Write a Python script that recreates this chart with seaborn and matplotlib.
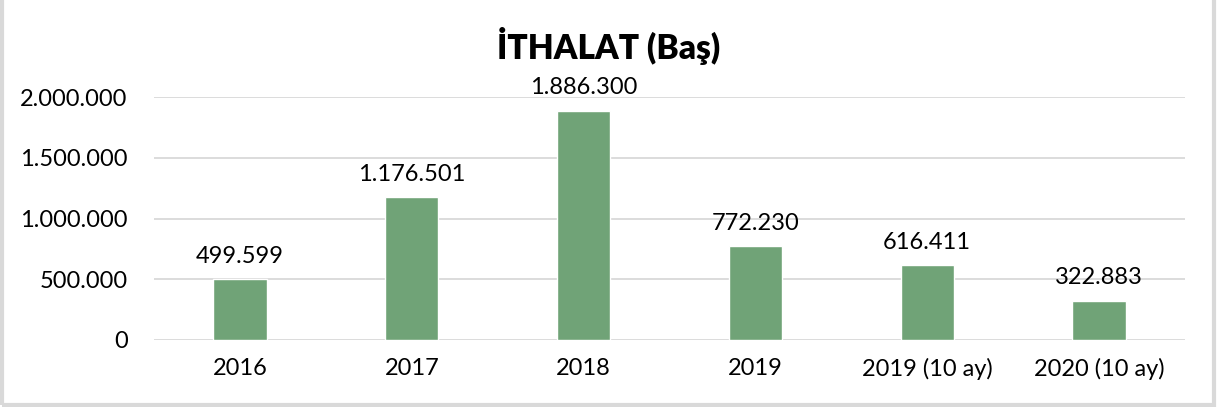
import matplotlib
matplotlib.use("Agg")
import matplotlib.pyplot as plt
from matplotlib.patches import Rectangle
import seaborn as sns
import pandas as pd

categories = ["2016", "2017", "2018", "2019", "2019 (10 ay)", "2020 (10 ay)"]
values = [499599, 1176501, 1886300, 772230, 616411, 322883]
yticks = [0, 500000, 1000000, 1500000, 2000000]

sns.set_theme(style="white")
plt.rcParams["font.family"] = ["Lato", "DejaVu Sans"]


def tr_fmt(v):
    return f"{int(round(v)):,}".replace(",", ".")


df = pd.DataFrame({"Yıl": categories, "Baş": values})

fig = plt.figure(figsize=(12.18, 4.07), dpi=100)
ax = fig.add_axes([154 / 1218, 1 - 340 / 407, (1185 - 154) / 1218, (340 - 97) / 407])

sns.barplot(data=df, x="Yıl", y="Baş", color="#70A377", width=0.31,
            saturation=1, ax=ax, zorder=3)

ax.set_ylim(0, 2000000)
ax.set_xlim(-0.5, len(categories) - 0.5)
ax.set_yticks(yticks)
ax.set_yticklabels([tr_fmt(t) for t in yticks], fontsize=17, color="#000000")
ax.tick_params(axis="x", labelsize=17, colors="#000000", length=0, pad=13)
ax.tick_params(axis="y", length=0, pad=19)
ax.set_xlabel("")
ax.set_ylabel("")
ax.yaxis.grid(True, color="#D9D9D9", linewidth=1.3, zorder=0)
for s in ax.spines.values():
    s.set_visible(False)

for cont in ax.containers:
    ax.bar_label(cont, labels=[tr_fmt(v) for v in values], padding=9,
                 fontsize=17, color="#000000")

fig.text(0.5, 1 - 46 / 407, "İTHALAT (Baş)", ha="center", va="center",
         fontsize=24, fontweight="heavy", color="#000000")

# light frame around the chart area
fig.patches.append(Rectangle((0.0015, 0.004), 0.9955, 1.2, transform=fig.transFigure,
                             fill=False, edgecolor="#D9D9D9", linewidth=3))

fig.savefig("out.png", dpi=100, facecolor="white")
